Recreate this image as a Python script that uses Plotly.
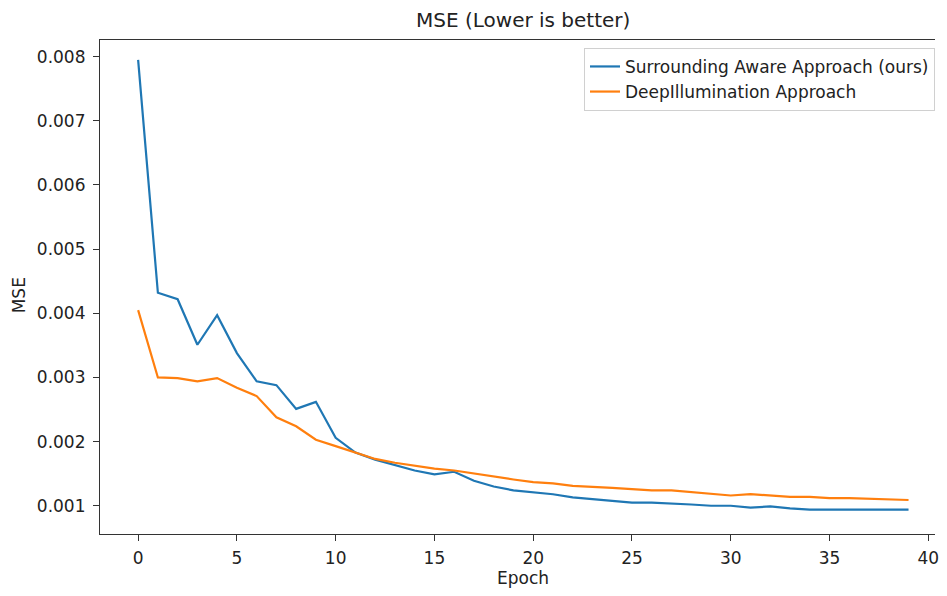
import plotly.graph_objects as go

epochs = list(range(40))
surrounding_aware = [0.00795, 0.00432, 0.00422, 0.00351, 0.00397, 0.00338, 0.00294, 0.00288, 0.00251, 0.00262,
                     0.00206, 0.00183, 0.00172, 0.00163, 0.00155, 0.00149, 0.00153, 0.00139, 0.00130, 0.00124,
                     0.00121, 0.00118, 0.00113, 0.00110, 0.00107, 0.00105, 0.00105, 0.00104, 0.00102, 0.00100,
                     0.00100, 0.00097, 0.00099, 0.00096, 0.00094, 0.00094, 0.00094, 0.00093, 0.00093, 0.00094]
deep_illumination = [0.00405, 0.00300, 0.00299, 0.00294, 0.00299, 0.00284, 0.00271, 0.00238, 0.00224, 0.00203,
                     0.00193, 0.00183, 0.00173, 0.00167, 0.00162, 0.00158, 0.00155, 0.00150, 0.00145, 0.00141,
                     0.00137, 0.00135, 0.00131, 0.00130, 0.00128, 0.00126, 0.00124, 0.00124, 0.00121, 0.00119,
                     0.00116, 0.00118, 0.00116, 0.00114, 0.00114, 0.00112, 0.00112, 0.00111, 0.00110, 0.00109]
x_ticks = [0, 5, 10, 15, 20, 25, 30, 35, 40]
y_ticks = [0.001, 0.002, 0.003, 0.004, 0.005, 0.006, 0.007, 0.008]

FONT = "DejaVu Sans"

fig = go.Figure()
fig.add_trace(go.Scatter(x=epochs, y=surrounding_aware, mode="lines",
                         name="Surrounding Aware Approach (ours)",
                         line=dict(color="#1f77b4", width=2.2)))
fig.add_trace(go.Scatter(x=epochs, y=deep_illumination, mode="lines",
                         name="DeepIllumination Approach",
                         line=dict(color="#ff7f0e", width=2.2)))

axis_common = dict(showgrid=False, zeroline=False, showline=True, linecolor="#333333", linewidth=1.2,
                   ticks="outside", ticklen=6, tickwidth=1.2, tickcolor="#333333",
                   tickfont=dict(family=FONT, size=17, color="#222222"))

fig.update_xaxes(range=[-1.93, 40.34], tickvals=x_ticks, mirror=True, ticklabelstandoff=2,
                 ticklabeloverflow="allow", **axis_common)
fig.update_yaxes(range=[0.00056, 0.00826], tickvals=y_ticks, tickformat=".3f", ticklabelstandoff=4, **axis_common)

fig.update_layout(
    width=931, height=580,
    margin=dict(l=92, r=0, t=32, b=54),
    plot_bgcolor="white", paper_bgcolor="white",
    font=dict(family=FONT, size=17, color="#222222"),
    showlegend=True,
    legend=dict(x=1.0, y=0.984, xanchor="right", yanchor="top",
                bgcolor="rgba(255,255,255,0.8)", bordercolor="#d0d0d0", borderwidth=1,
                font=dict(family=FONT, size=17, color="#222222")),
    annotations=[
        dict(text="MSE (Lower is better)", xref="paper", yref="paper", x=0.507, y=1.0405,
             xanchor="center", yanchor="middle", showarrow=False, font=dict(family=FONT, size=20, color="#222222")),
        dict(text="Epoch", xref="paper", yref="paper", x=0.507, y=-0.0891,
             xanchor="center", yanchor="middle", showarrow=False, font=dict(family=FONT, size=17, color="#222222")),
        dict(text="MSE", xref="paper", yref="paper", x=-0.0977, y=0.484, textangle=-90,
             xanchor="center", yanchor="middle", showarrow=False, font=dict(family=FONT, size=17, color="#222222")),
    ],
)

fig.write_html("out.html")
